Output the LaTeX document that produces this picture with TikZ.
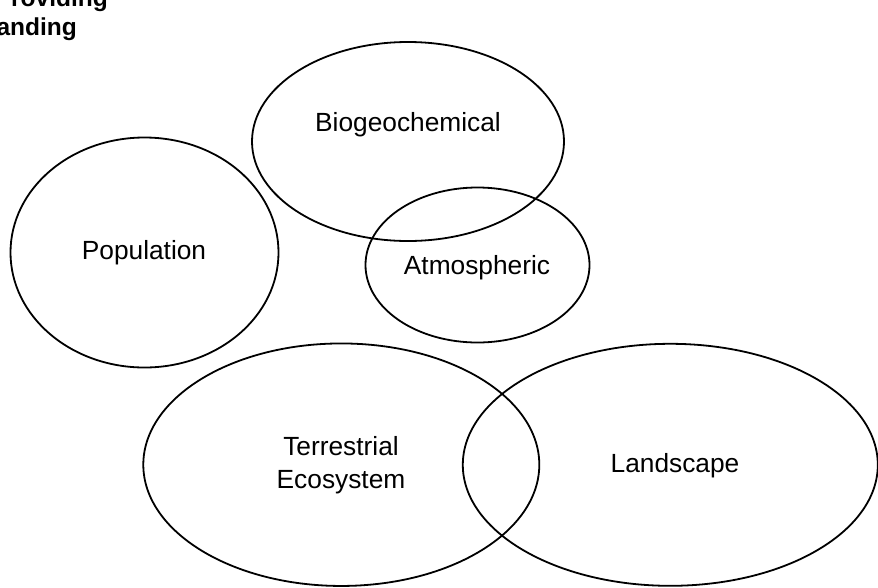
\documentclass[tikz,border=0pt]{standalone}
\usepackage{fontspec}
\setmainfont{Liberation Sans}
\usetikzlibrary{shapes.geometric}
\begin{document}
\begin{tikzpicture}[x=1pt,y=-1pt,
  field/.style={draw=black,line width=1.8pt,ellipse,inner sep=0pt},
  lbl/.style={inner sep=0pt,font=\fontsize{26.3}{32.6}\selectfont,align=center},
  head/.style={inner sep=0pt,font=\fontsize{24.5}{29}\selectfont\bfseries}]
\useasboundingbox (0,0) rectangle (878,587);
\clip (0,0) rectangle (878,587);

% partly cut heading in the upper left corner
\node[head,anchor=base east] (h1) at (108,6) {roviding};
\node[head,anchor=base east] (h2) at (77,35.7) {anding};

% the five overlapping fields
\node[field,minimum width=312pt,minimum height=199pt] (bio) at (408,141.5) {};
\node[field,minimum width=268pt,minimum height=230pt] (pop) at (144.5,252.5) {};
\node[field,minimum width=224pt,minimum height=155pt] (atm) at (477.5,265) {};
\node[field,minimum width=396pt,minimum height=242.5pt] (ter) at (341.3,464.7) {};
\node[field,minimum width=415pt,minimum height=242pt] (lan) at (670.3,464.8) {};

% field names
\node[lbl] (biot) at (408,125) {Biogeochemical};
\node[lbl] (popt) at (144,252.5) {Population};
\node[lbl] (atmt) at (477,267.5) {Atmospheric};
\node[lbl] (tert) at (341,465.3) {Terrestrial\\Ecosystem};
\node[lbl] (lant) at (675,465.8) {Landscape};
\end{tikzpicture}
\end{document}
